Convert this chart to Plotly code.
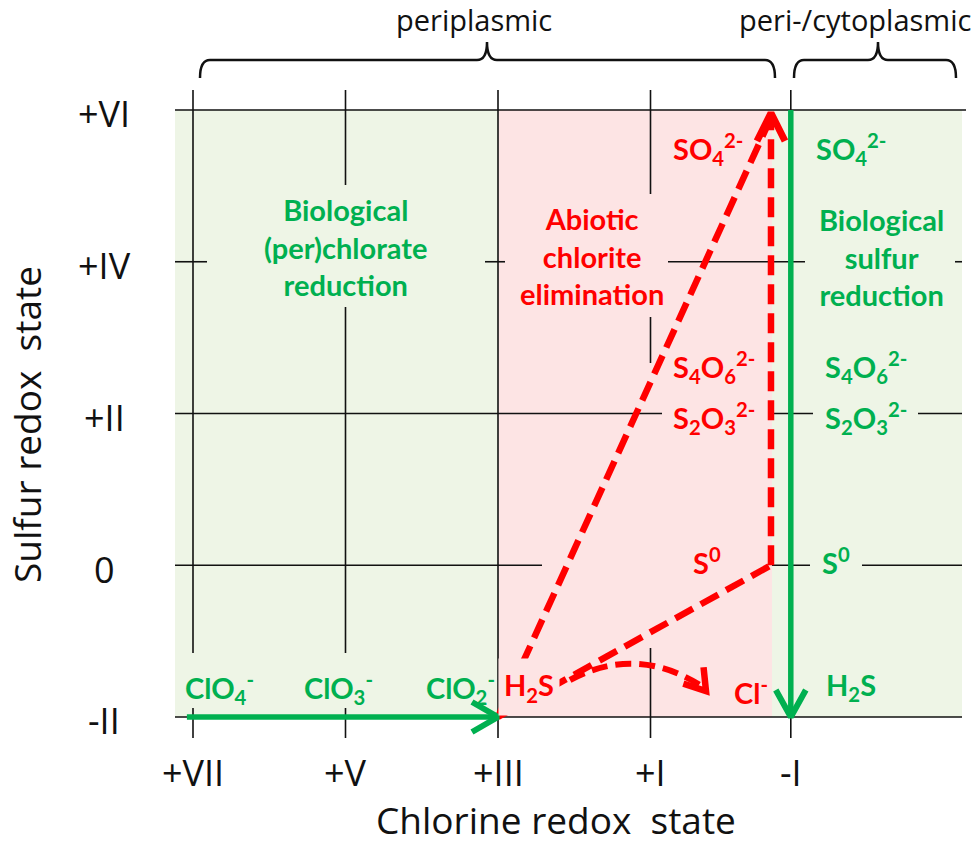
import math
import plotly.graph_objects as go

# ---------------- data ----------------
cl_labels = ["+VII", "+V", "+III", "+I", "-I"]
cl_pos = [7, 5, 3, 1, -0.84]          # chlorine redox state positions on x
s_labels = ["+VI", "+IV", "+II", "0", "-II"]
s_pos = [6, 4, 2, 0, -2]               # sulfur redox state positions on y

# chlorine species (green, bottom row)
cl_species = ["ClO<sub>4</sub><sup>-</sup>", "ClO<sub>3</sub><sup>-</sup>", "ClO<sub>2</sub><sup>-</sup>"]
cl_species_x = [6.65, 5.09, 3.49]
cl_species_y = [-1.62, -1.62, -1.62]

# sulfur species – abiotic column (red) and biological column (green)
s_species = ["SO<sub>4</sub><sup>2-</sup>", "S<sub>4</sub>O<sub>6</sub><sup>2-</sup>",
             "S<sub>2</sub>O<sub>3</sub><sup>2-</sup>", "S<sup>0</sup>", "H<sub>2</sub>S"]
s_species_y = [5.49, 2.61, 1.94, 0.05, -1.60]
red_species_x = [0.25, 0.17, 0.17, 0.26, 2.60]
green_species_x = [-1.63, -1.83, -1.83, -1.43, -1.63]

# pathways
green_cl_path_x = [7.08, 3]      # ClO4- -> ClO2- at S = -II
green_cl_path_y = [-2, -2]
green_s_path_x = [-0.84, -0.84]  # SO4 2- -> H2S at Cl = -I
green_s_path_y = [6, -2]
red_x_end = -0.58
red_paths = [  # (x0, y0, x1, y1)
    (3, -2, red_x_end, 0),      # H2S -> S0
    (3, -2, red_x_end, 5.90),   # H2S -> SO4 2-
    (red_x_end, 0, red_x_end, 5.90),  # S0 -> SO4 2-
]

GREEN = "#00B050"
RED = "#FF0000"
BG_GREEN = "#EEF5E6"
BG_PINK = "#FDE4E4"

W, H = 975, 844
XR = [9.5311, -3.2557]
YR = [-3.6738, 7.4498]
SX = W / (XR[0] - XR[1])   # px per chlorine unit
SY = H / (YR[1] - YR[0])   # px per sulfur unit


def px_x(p):
    return XR[0] - p / SX


def px_y(p):
    return YR[1] - p / SY


def x_px(x):
    return (XR[0] - x) * SX


def y_px(y):
    return (YR[1] - y) * SY


fig = go.Figure()
shapes = []

# backgrounds
shapes.append(dict(type="rect", xref="x", yref="y", x0=px_x(175), x1=px_x(962), y0=-2, y1=6,
                   fillcolor=BG_GREEN, line=dict(width=0), layer="below"))
shapes.append(dict(type="rect", xref="x", yref="y", x0=3, x1=px_x(772), y0=-2, y1=6,
                   fillcolor=BG_PINK, line=dict(width=0), layer="below"))

# grid lines with gaps where text boxes sit (pixel spans)
v_segments = [
    [(90, 653), (708, 738)],
    [(90, 185), (307, 653), (708, 738)],
    [(90, 738)],
    [(90, 194), (317, 363), (648, 738)],
    [(90, 738)],
]
h_segments = [
    [(175, 966)],
    [(175, 207), (485, 505), (668, 805), (955, 962)],
    [(175, 662), (770, 813), (918, 962)],
    [(175, 542), (772, 810), (862, 962)],
    [(175, 962)],
]
GL = dict(color="#111111", width=1.6)
for xv, segs in zip(cl_pos, v_segments):
    for a, b in segs:
        shapes.append(dict(type="line", xref="x", yref="y", x0=xv, x1=xv, y0=px_y(a), y1=px_y(b),
                           line=GL, layer="below"))
for yv, segs in zip(s_pos, h_segments):
    for a, b in segs:
        shapes.append(dict(type="line", xref="x", yref="y", x0=px_x(a), x1=px_x(b), y0=yv, y1=yv,
                           line=GL, layer="below"))


# braces on top
def brace(xl, xc, xr, ybot, ymid, ypk, r):
    xl, xc, xr = px_x(xl), px_x(xc), px_x(xr)
    ybot, ymid, ypk = px_y(ybot), px_y(ymid), px_y(ypk)
    d = r / SX
    return (f"M{xl},{ybot} Q{xl},{ymid} {xl - d},{ymid} L{xc + d},{ymid} "
            f"Q{xc},{ymid} {xc},{ypk} Q{xc},{ymid} {xc - d},{ymid} "
            f"L{xr + d},{ymid} Q{xr},{ymid} {xr},{ybot}")


for xl, xc, xr in [(200, 487, 775), (794, 878, 956)]:
    shapes.append(dict(type="path", xref="x", yref="y", path=brace(xl, xc, xr, 78, 60, 42, 10),
                       line=dict(color="#111111", width=2.5)))

# curved red dashed arrow H2S -> Cl-
shapes.append(dict(type="path", xref="x", yref="y",
                   path=f"M{px_x(570)},{px_y(680)} Q{px_x(635)},{px_y(645)} {px_x(700)},{px_y(685)}",
                   line=dict(color=RED, width=6, dash="16px,8px"), layer="above"))

# pathways
fig.add_trace(go.Scatter(x=green_cl_path_x, y=green_cl_path_y, mode="lines",
                         line=dict(color=GREEN, width=5.5), hoverinfo="skip"))
fig.add_trace(go.Scatter(x=green_s_path_x, y=green_s_path_y, mode="lines",
                         line=dict(color=GREEN, width=5.5), hoverinfo="skip"))
for x0, y0, x1, y1 in red_paths:
    fig.add_trace(go.Scatter(x=[x0, x1], y=[y0, y1], mode="lines",
                             line=dict(color=RED, width=6.5, dash="20px,9px"), hoverinfo="skip"))


# open chevron arrow heads, built around the tip of each pathway
def chevron(tx, ty, ux, uy, length, half, color, width):
    px0, py0 = x_px(tx), y_px(ty)
    n = math.hypot(ux, uy)
    ux, uy = ux / n, uy / n
    nx, ny = -uy, ux
    pts = [(px0 - length * ux + half * nx, py0 - length * uy + half * ny),
           (px0, py0),
           (px0 - length * ux - half * nx, py0 - length * uy - half * ny)]
    fig.add_trace(go.Scatter(x=[px_x(p[0]) for p in pts], y=[px_y(p[1]) for p in pts],
                             mode="lines", line=dict(color=color, width=width),
                             hoverinfo="skip"))


chevron(red_x_end, 5.96, 0, -1, 28, 14, RED, 7)
chevron(green_s_path_x[1], green_s_path_y[1], 0, 1, 27, 15, GREEN, 6)
chevron(green_cl_path_x[1], green_cl_path_y[1], 1, 0, 26, 15, GREEN, 6)
chevron(px_x(706), px_y(691), 0.63, 0.78, 20, 13, RED, 6.5)

ann = []
LBL = dict(family="Lato", size=29, weight="bold")
# chlorine species labels
for t, x, y in zip(cl_species, cl_species_x, cl_species_y):
    ann.append(dict(x=x, y=y, xref="x", yref="y", text=t, showarrow=False,
                    font=dict(**LBL, color=GREEN)))
# sulfur species labels
for t, xr_, xg, y in zip(s_species, red_species_x, green_species_x, s_species_y):
    extra = {}
    if t.startswith("H<sub>2"):
        extra = dict(bgcolor=BG_PINK, width=58, height=54)
    ann.append(dict(x=xr_, y=y, xref="x", yref="y", text=t, showarrow=False,
                    font=dict(**LBL, color=RED), **extra))
    ann.append(dict(x=xg, y=y, xref="x", yref="y", text=t, showarrow=False,
                    font=dict(**LBL, color=GREEN)))
ann.append(dict(x=px_x(751), y=px_y(691), xref="x", yref="y", text="Cl<sup>-</sup>", showarrow=False,
                font=dict(**LBL, color=RED)))

# process labels
ann.append(dict(x=px_x(346), y=px_y(247), xref="x", yref="y",
                text="Biological<br>(per)chlorate<br>reduction", showarrow=False,
                font=dict(**LBL, color=GREEN)))
ann.append(dict(x=px_x(592), y=px_y(256), xref="x", yref="y",
                text="Abiotic<br>chlorite<br>elimination", showarrow=False,
                font=dict(**LBL, color=RED)))
ann.append(dict(x=px_x(881), y=px_y(257), xref="x", yref="y",
                text="Biological<br>sulfur<br>reduction", showarrow=False,
                font=dict(**LBL, color=GREEN)))

# tick labels
TK = dict(family="Open Sans", size=36, color="#111111")
for t, xv in zip(cl_labels, cl_pos):
    ann.append(dict(x=xv, y=px_y(772), xref="x", yref="y", text=t, showarrow=False, font=TK,
                    borderpad=0))
for t, yv in zip(s_labels, s_pos):
    ann.append(dict(x=px_x(104), y=yv - 0.05, xref="x", yref="y", text=t, showarrow=False, font=TK,
                    borderpad=0))

# axis titles
TT = dict(family="Open Sans", size=37, color="#111111")
ann.append(dict(x=px_x(556), y=px_y(819), xref="x", yref="y", text="Chlorine redox\u00a0 state",
                showarrow=False, font=TT, borderpad=0))
ann.append(dict(x=px_x(26), y=px_y(425), xref="x", yref="y", text="Sulfur redox\u00a0 state",
                showarrow=False, font=TT, textangle=-90, borderpad=0))

# compartment labels
TP = dict(family="Open Sans", size=29, color="#111111")
ann.append(dict(x=px_x(474), y=px_y(19), xref="x", yref="y", text="periplasmic",
                showarrow=False, font=TP))
ann.append(dict(x=px_x(737), y=px_y(19), xref="x", yref="y", text="peri-/cytoplasmic",
                showarrow=False, font=TP, xanchor="left"))

fig.update_layout(
    width=W, height=H, autosize=False,
    margin=dict(l=0, r=0, t=0, b=0, pad=0),
    paper_bgcolor="white", plot_bgcolor="white",
    showlegend=False,
    xaxis=dict(range=XR, visible=False, fixedrange=True),
    yaxis=dict(range=YR, visible=False, fixedrange=True),
    shapes=shapes, annotations=ann,
)

fig.write_html("out.html", config={"displayModeBar": False},
               post_script="document.body.style.margin='0';document.body.style.padding='0';"
                           "document.body.style.overflow='hidden';")
